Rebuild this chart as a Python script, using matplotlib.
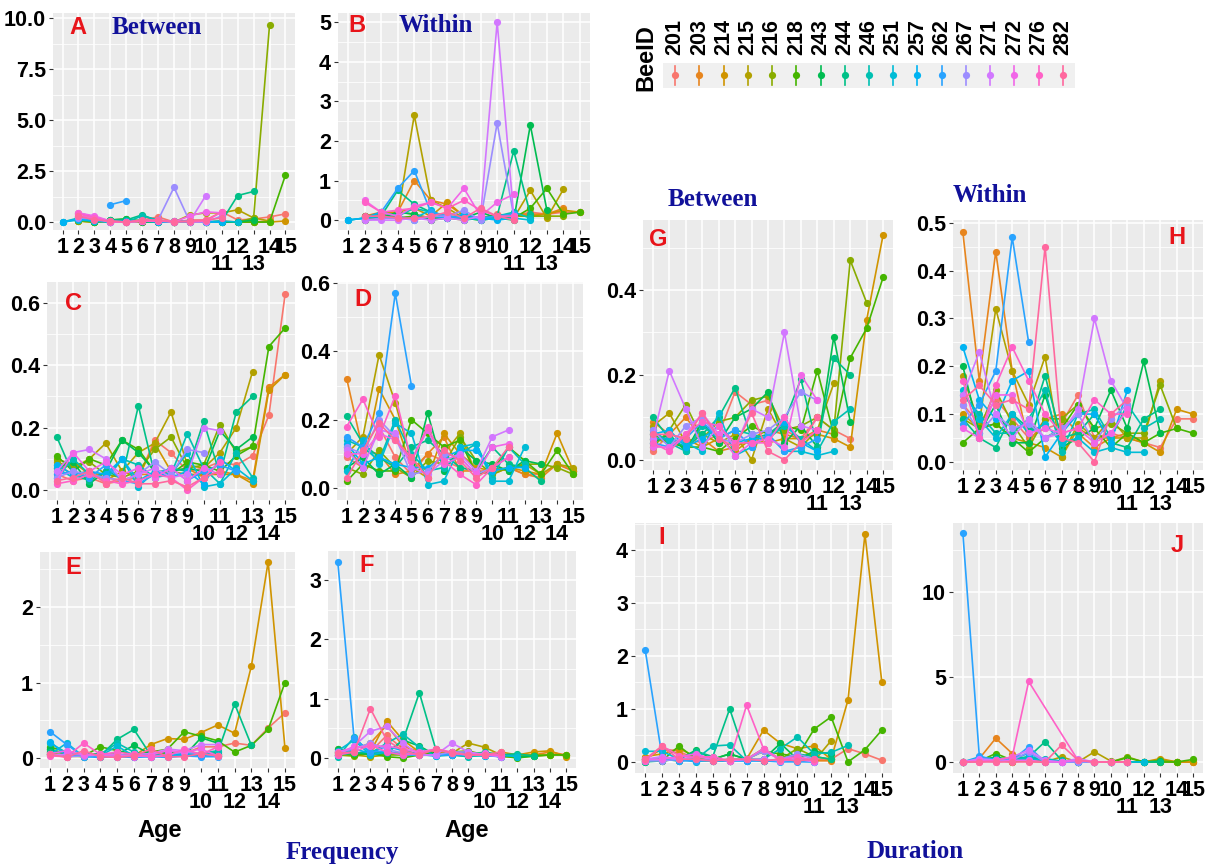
import numpy as np
import matplotlib
matplotlib.use("Agg")
import matplotlib.pyplot as plt
from matplotlib.ticker import FixedLocator

N = np.nan
ages = list(range(1, 16))
bee_ids = ["201", "203", "214", "215", "216", "218", "243", "244", "246",
           "251", "257", "262", "267", "271", "272", "276", "282"]

# ---------------- data (rows = bees in bee_ids order, cols = age 1..15) ----------------
A_vals = [
    [N,0.45,0.25,0.05,0.0,0.1,0.25,0.0,0.1,0.1,0.5,0.1,0.15,0.25,0.4],
    [N,0.1,0.05,0.0,0.05,0.0,0.05,0.0,0.05,0.0,0.05,0.0,0.0,0.05,N],
    [N,0.05,0.0,0.0,0.05,0.0,0.0,0.05,0.0,0.0,0.0,0.0,0.0,0.0,0.05],
    [N,0.05,0.0,0.05,0.0,0.05,0.0,0.0,0.35,0.45,0.45,0.6,0.2,0.05,N],
    [N,0.05,0.0,0.0,0.0,0.05,0.0,0.0,0.05,0.0,0.0,0.0,0.2,9.65,N],
    [N,0.1,0.0,0.1,0.15,0.05,0.0,0.0,0.0,0.0,0.0,0.0,0.0,0.0,2.3],
    [N,0.2,0.0,0.1,0.15,0.0,0.0,0.0,0.05,0.0,0.0,0.0,0.1,N,N],
    [N,0.25,0.05,0.1,0.1,0.35,0.05,0.0,0.0,0.0,0.05,1.3,1.5,N,N],
    [0.0,0.2,0.1,0.0,0.0,0.3,0.1,0.0,0.0,0.0,0.0,N,N,N,N],
    [0.0,0.1,0.05,0.0,0.0,0.1,0.0,0.05,0.0,0.0,0.05,0.0,N,N,N],
    [0.0,0.15,0.05,0.0,0.05,0.05,0.0,0.0,0.05,0.0,0.0,N,N,N,N],
    [N,N,N,0.85,1.05,N,N,N,N,N,N,N,N,N,N],
    [N,0.2,0.15,0.0,0.0,0.05,0.1,1.7,0.0,0.0,0.3,N,N,N,N],
    [N,0.3,0.2,0.0,0.0,0.05,0.1,0.0,0.05,1.3,N,N,N,N,N],
    [N,0.45,0.3,0.05,0.0,0.05,0.05,0.0,0.3,0.5,0.45,N,N,N,N],
    [N,0.4,0.2,0.0,0.0,0.05,0.05,0.05,0.0,0.05,0.5,N,N,N,N],
    [N,0.3,0.1,0.05,0.0,0.1,0.1,0.0,0.05,0.1,0.2,N,N,N,N],
]
B_vals = [
    [N,0.1,0.15,0.05,0.1,0.05,0.1,0.1,0.05,0.15,0.1,0.2,0.15,0.2,0.2],
    [N,0.1,0.2,0.2,1.0,0.5,0.4,0.1,0.05,0.1,0.15,0.15,0.15,0.3,N],
    [N,0.1,0.15,0.2,0.3,0.1,0.45,0.1,0.05,0.1,0.1,0.1,0.15,0.25,0.2],
    [N,0.0,0.1,0.1,2.65,0.5,0.3,0.05,0.05,0.1,0.05,0.75,0.05,0.78,N],
    [N,0.0,0.05,0.2,0.15,0.05,0.05,0.0,0.1,0.05,0.1,0.1,0.1,0.1,N],
    [N,0.0,0.05,0.05,0.1,0.0,0.05,0.05,0.0,0.05,0.05,0.3,0.8,0.15,0.2],
    [N,0.1,0.05,0.2,0.15,0.0,0.1,0.05,0.2,0.05,0.0,2.4,0.25,N,N],
    [N,0.05,0.1,0.75,0.4,0.2,0.05,0.05,0.0,0.1,1.75,0.15,N,N,N],
    [0.0,0.05,0.2,0.1,0.3,0.2,0.1,0.0,0.05,0.1,0.2,0.05,N,N,N],
    [0.0,0.05,0.1,0.05,0.05,0.25,0.05,0.1,0.0,0.05,0.05,0.0,N,N,N],
    [0.0,0.05,0.2,0.1,0.0,0.1,0.05,0.15,0.05,0.0,0.05,N,N,N,N],
    [N,N,0.2,0.8,1.25,0.2,0.1,0.05,0.05,0.1,0.15,N,N,N,N],
    [N,0.0,0.05,0.05,0.0,0.1,0.1,0.25,0.0,2.45,0.1,N,N,N,N],
    [N,0.0,0.0,0.0,0.05,0.0,0.05,0.0,0.1,5.0,0.1,N,N,N,N],
    [N,0.5,0.2,0.1,0.35,0.45,0.3,0.8,0.1,0.45,0.65,N,N,N,N],
    [N,0.45,0.2,0.25,0.3,0.45,0.3,0.5,0.25,0.1,0.1,N,N,N,N],
    [N,0.1,0.1,0.05,0.05,0.1,0.2,0.05,0.3,0.1,0.0,N,N,N,N],
]
C_vals = [
    [0.05,0.03,0.04,0.02,0.03,0.04,0.16,0.12,0.06,0.07,0.09,0.08,0.11,0.24,0.63],
    [0.08,0.05,0.06,0.04,0.03,0.05,0.05,0.06,0.07,0.04,0.06,0.05,0.03,0.33,0.37],
    [0.06,0.09,0.05,0.03,0.06,0.04,0.15,0.06,0.05,0.05,0.05,0.05,0.02,0.32,0.37],
    [0.09,0.07,0.10,0.15,0.06,0.12,0.15,0.25,0.08,0.07,0.12,0.20,0.38,N,N],
    [0.10,0.08,0.09,0.05,0.04,0.06,0.13,0.17,0.07,0.08,0.21,0.12,0.14,N,N],
    [0.11,0.06,0.10,0.08,0.16,0.13,0.06,0.05,0.09,0.08,0.06,0.11,0.14,0.46,0.52],
    [0.07,0.09,0.02,0.06,0.16,0.12,0.06,0.06,0.07,0.06,0.19,0.13,0.17,N,N],
    [0.17,0.05,0.03,0.06,0.04,0.27,0.05,0.07,0.06,0.22,0.05,0.25,0.30,N,N],
    [0.04,0.10,0.05,0.04,0.10,0.08,0.04,0.05,0.18,0.07,0.02,0.12,0.04,N,N],
    [0.07,0.04,0.05,0.03,0.10,0.01,0.06,0.05,0.12,0.01,0.02,0.07,0.03,N,N],
    [0.08,0.05,0.06,0.05,0.10,0.03,0.06,0.04,0.06,0.02,0.10,0.06,N,N,N],
    [0.05,0.06,0.04,0.08,0.03,0.02,0.05,0.07,0.03,0.06,0.08,0.06,N,N,N],
    [0.04,0.06,0.05,0.04,0.03,0.05,0.09,0.05,0.13,0.12,N,N,N,N,N],
    [0.06,0.12,0.13,0.10,0.03,0.05,0.07,0.04,0.05,0.20,0.19,N,N,N,N],
    [0.03,0.12,0.06,0.09,0.05,0.07,0.04,0.07,0.03,0.07,0.05,N,N,N,N],
    [0.02,0.03,0.05,0.03,0.02,0.03,0.05,0.04,0.00,0.04,0.09,N,N,N,N],
    [0.03,0.04,0.06,0.02,0.04,0.02,0.02,0.03,0.01,0.04,0.06,N,N,N,N],
]
D_vals = [
    [0.09,0.06,0.18,0.09,0.04,0.10,0.08,0.06,0.05,0.05,0.06,0.04,0.04,0.07,0.05],
    [0.32,0.11,0.10,0.04,0.05,0.10,0.15,0.05,0.05,0.04,0.06,0.04,0.03,0.07,0.05],
    [0.12,0.06,0.29,0.20,0.06,0.03,0.16,0.10,0.06,0.05,0.06,0.05,0.04,0.16,0.05],
    [0.10,0.15,0.39,0.25,0.08,0.05,0.10,0.16,0.04,0.06,0.05,0.07,0.04,0.07,0.06],
    [0.06,0.04,0.11,0.06,0.03,0.08,0.07,0.15,0.08,0.04,0.06,0.07,0.07,0.06,0.04],
    [0.02,0.07,0.05,0.05,0.20,0.16,0.12,0.14,0.04,0.05,0.12,0.08,0.04,0.11,0.04],
    [0.06,0.09,0.04,0.07,0.03,0.22,0.05,0.12,0.08,0.07,0.05,0.08,0.07,N,N],
    [0.21,0.13,0.09,0.06,0.12,0.14,0.10,0.06,0.05,0.12,0.07,0.06,0.02,N,N],
    [0.14,0.12,0.08,0.20,0.10,0.05,0.06,0.10,0.13,0.03,0.12,0.07,N,N,N],
    [0.05,0.14,0.07,0.19,0.16,0.01,0.02,0.12,0.13,0.02,0.02,0.12,N,N,N],
    [0.13,0.07,0.09,0.07,0.06,0.06,0.09,0.11,0.11,0.05,0.06,0.06,N,N,N],
    [0.15,0.12,0.22,0.57,0.30,N,N,N,N,N,N,N,N,N,N],
    [0.12,0.10,0.20,0.15,0.04,0.05,0.10,0.09,0.04,0.06,0.09,N,N,N,N],
    [0.11,0.06,0.17,0.16,0.06,0.04,0.08,0.10,0.05,0.15,0.17,N,N,N,N],
    [0.10,0.10,0.16,0.14,0.08,0.17,0.07,0.09,0.04,0.12,0.13,N,N,N,N],
    [0.18,0.26,0.15,0.27,0.08,0.18,0.08,0.04,0.01,0.06,0.09,N,N,N,N],
    [0.03,0.11,0.19,0.14,0.09,0.03,0.11,0.08,0.03,0.06,0.12,N,N,N,N],
]
E_vals = [
    [0.10,0.05,0.05,0.03,0.05,0.03,0.10,0.08,0.06,0.15,0.15,0.20,0.17,0.40,0.60],
    [0.05,0.03,0.05,0.02,0.03,0.02,0.05,0.05,0.03,0.05,0.05,N,N,N,N],
    [0.08,0.02,0.03,0.05,0.04,0.03,0.18,0.26,0.25,0.34,0.44,0.33,1.22,2.60,0.14],
    [0.12,0.05,0.04,0.03,0.02,0.04,0.05,0.06,0.10,0.05,0.05,N,N,N,N],
    [0.05,0.03,0.02,0.05,0.03,0.05,0.06,0.07,0.05,0.04,0.03,N,N,N,N],
    [0.15,0.08,0.03,0.15,0.10,0.05,0.08,0.12,0.35,0.29,0.23,0.08,0.17,0.38,1.00],
    [0.12,0.05,0.05,0.06,0.05,0.17,0.05,0.08,0.03,0.27,0.20,N,N,N,N],
    [0.08,0.07,0.04,0.03,0.25,0.38,0.04,0.04,0.05,0.04,0.08,0.72,0.17,N,N],
    [0.20,0.07,0.05,0.05,0.20,0.08,0.03,0.05,0.06,0.06,0.10,N,N,N,N],
    [0.05,0.20,0.02,0.03,0.16,0.03,0.02,0.04,0.04,0.06,0.04,N,N,N,N],
    [0.22,0.03,0.05,0.02,0.03,0.02,0.03,0.03,0.05,0.04,0.03,N,N,N,N],
    [0.35,0.18,0.02,0.01,0.02,0.01,0.02,0.01,0.03,0.02,0.02,N,N,N,N],
    [0.05,0.02,0.03,0.04,0.05,0.03,0.02,0.05,0.08,0.06,0.03,N,N,N,N],
    [0.04,0.05,0.06,0.03,0.02,0.05,0.06,0.12,0.10,0.18,0.18,N,N,N,N],
    [0.06,0.10,0.04,0.05,0.04,0.02,0.04,0.10,0.08,0.12,0.03,N,N,N,N],
    [0.03,0.02,0.20,0.05,0.08,0.05,0.02,0.03,0.12,0.05,0.15,N,N,N,N],
    [0.05,0.01,0.10,0.02,0.01,0.03,0.12,0.02,0.02,0.06,0.03,N,N,N,N],
]
F_vals = [
    [0.05,0.08,0.10,0.38,0.15,0.05,0.12,0.08,0.05,0.05,0.05,N,N,N,N],
    [0.10,0.15,0.25,0.55,0.20,0.10,0.08,0.10,0.05,0.05,0.02,0.02,0.05,0.10,0.05],
    [0.15,0.05,0.10,0.62,0.30,0.10,0.06,0.10,0.05,0.05,0.10,0.05,0.10,0.12,0.02],
    [0.10,0.05,0.02,0.05,0.10,0.05,0.05,0.08,0.25,0.18,0.05,0.02,0.03,0.05,0.05],
    [0.05,0.03,0.08,0.05,0.05,0.08,0.05,0.10,0.12,0.05,0.05,0.05,0.05,0.05,N],
    [0.08,0.05,0.08,0.02,0.00,0.05,0.08,0.05,0.03,0.05,0.03,0.00,0.03,0.05,0.05],
    [0.15,0.10,0.05,0.08,0.30,0.20,0.05,0.05,0.10,0.05,0.05,0.02,0.03,N,N],
    [0.05,0.08,0.10,0.08,0.30,1.10,0.15,0.08,0.05,0.10,0.05,0.07,0.03,N,N],
    [0.02,0.35,0.08,0.25,0.40,0.18,0.03,0.05,0.02,0.05,0.03,0.05,N,N,N],
    [0.12,0.30,0.05,0.10,0.05,0.05,0.05,0.05,0.05,0.03,0.05,0.02,N,N,N],
    [0.05,0.15,0.08,0.20,0.12,0.06,0.03,0.08,0.05,0.04,0.02,N,N,N,N],
    [3.30,0.33,0.10,0.12,0.05,0.05,0.05,0.05,0.05,0.05,0.02,N,N,N,N],
    [0.10,0.15,0.25,0.15,0.08,0.05,0.05,0.10,0.10,0.05,0.05,N,N,N,N],
    [0.05,0.20,0.45,0.53,0.25,0.05,0.05,0.25,0.10,0.05,0.02,N,N,N,N],
    [0.10,0.18,0.20,0.20,0.15,0.10,0.15,0.08,0.05,0.08,0.05,N,N,N,N],
    [0.05,0.10,0.22,0.10,0.05,0.08,0.15,0.10,0.05,0.05,0.05,N,N,N,N],
    [0.08,0.10,0.83,0.30,0.12,0.05,0.15,0.08,0.05,0.05,0.10,N,N,N,N],
]
G_vals = [
    [0.02,0.06,0.05,0.04,0.06,0.16,0.13,0.14,0.07,0.05,0.10,0.07,0.05,N,N],
    [0.09,0.06,0.10,0.05,0.02,0.03,0.05,0.07,0.06,0.05,0.07,0.06,N,N,N],
    [0.05,0.04,0.05,0.03,0.05,0.02,0.05,0.04,0.05,0.05,0.06,0.05,0.03,0.33,0.53],
    [0.08,0.11,0.04,0.06,0.04,0.06,0.00,0.12,0.05,0.03,0.07,0.18,N,N,N],
    [0.03,0.07,0.13,0.05,0.09,0.10,0.14,0.15,0.07,0.08,0.10,0.07,0.47,0.37,N],
    [0.06,0.04,0.03,0.03,0.02,0.05,0.08,0.06,0.08,0.07,0.21,0.06,0.24,0.31,0.43],
    [0.04,0.06,0.02,0.09,0.04,0.10,0.12,0.16,0.04,0.08,0.03,0.29,0.09,N,N],
    [0.10,0.05,0.03,0.06,0.10,0.17,0.05,0.06,0.09,0.19,0.03,0.24,0.20,N,N],
    [0.07,0.04,0.02,0.08,0.05,0.07,0.06,0.05,0.08,0.05,0.02,0.09,0.12,N,N],
    [0.05,0.05,0.04,0.02,0.11,0.01,0.03,0.06,0.02,0.02,0.01,0.02,N,N,N],
    [0.06,0.07,0.03,0.05,0.08,0.04,0.05,0.05,0.09,0.04,0.02,N,N,N,N],
    [0.04,0.03,0.05,0.09,0.05,0.07,0.03,0.06,0.02,0.03,0.05,N,N,N,N],
    [0.07,0.03,0.08,0.10,0.05,0.04,0.06,0.07,0.10,0.16,0.14,N,N,N,N],
    [0.05,0.21,0.12,0.03,0.08,0.03,0.12,0.10,0.30,0.08,0.07,N,N,N,N],
    [0.03,0.03,0.06,0.11,0.06,0.01,0.04,0.05,0.03,0.20,0.14,N,N,N,N],
    [0.04,0.02,0.06,0.09,0.08,0.04,0.04,0.04,0.10,0.04,0.07,N,N,N,N],
    [0.06,0.06,0.05,0.11,0.05,0.03,0.11,0.02,0.00,0.04,0.10,N,N,N,N],
]
H_vals = [
    [0.12,0.08,0.13,0.09,0.05,0.07,0.08,0.14,0.05,0.06,0.05,0.04,0.03,0.09,0.09],
    [0.48,0.17,0.44,0.19,0.04,0.09,0.10,0.06,0.03,0.05,0.06,0.04,N,N,N],
    [0.10,0.07,0.08,0.05,0.04,0.03,0.01,0.07,0.05,0.05,0.05,0.04,0.02,0.11,0.10],
    [0.18,0.08,0.32,0.19,0.12,0.22,0.01,0.08,0.05,0.09,0.05,0.05,0.17,N,N],
    [0.09,0.07,0.15,0.08,0.03,0.09,0.09,0.12,0.07,0.08,0.06,0.06,0.16,0.07,N],
    [0.04,0.07,0.08,0.05,0.02,0.05,0.07,0.12,0.07,0.03,0.06,0.04,0.06,0.07,0.06],
    [0.20,0.06,0.12,0.04,0.04,0.14,0.03,0.05,0.07,0.15,0.07,0.21,0.06,N,N],
    [0.09,0.05,0.03,0.10,0.07,0.18,0.05,0.06,0.10,0.04,0.03,0.09,0.11,N,N],
    [0.14,0.10,0.06,0.06,0.09,0.15,0.02,0.10,0.11,0.05,0.12,0.07,0.09,N,N],
    [0.15,0.09,0.05,0.10,0.06,0.08,0.04,0.05,0.02,0.03,0.02,0.02,N,N,N],
    [0.24,0.13,0.09,0.17,0.19,0.01,0.06,0.10,0.10,0.04,0.15,N,N,N,N],
    [0.08,0.12,0.19,0.47,0.25,N,N,N,N,N,N,N,N,N,N],
    [0.12,0.06,0.10,0.07,0.08,0.05,0.07,0.10,0.04,0.09,0.12,N,N,N,N],
    [0.14,0.23,0.10,0.05,0.09,0.05,0.06,0.11,0.30,0.17,0.11,N,N,N,N],
    [0.07,0.05,0.14,0.14,0.06,0.07,0.06,0.07,0.04,0.06,0.11,N,N,N,N],
    [0.17,0.05,0.16,0.24,0.17,0.10,0.06,0.07,0.13,0.10,0.10,N,N,N,N],
    [0.13,0.16,0.12,0.13,0.11,0.45,0.05,0.04,0.00,0.10,0.13,N,N,N,N],
]
I_vals = [
    [0.05,0.25,0.20,0.05,0.05,0.02,0.05,0.02,0.02,0.05,0.05,0.05,0.25,0.15,0.03],
    [0.05,0.25,0.15,0.05,0.02,0.02,0.05,0.02,0.05,0.02,0.02,0.02,N,N,N],
    [0.10,0.15,0.25,0.10,0.05,0.02,0.05,0.60,0.35,0.25,0.30,0.05,1.17,4.30,1.50],
    [0.02,0.02,0.05,0.02,0.02,0.02,0.05,0.02,0.05,0.02,0.02,0.40,N,N,N],
    [0.02,0.05,0.02,0.05,0.02,0.05,0.05,0.25,0.05,0.25,0.10,0.05,N,N,N],
    [0.05,0.02,0.30,0.05,0.05,0.15,0.05,0.20,0.15,0.10,0.62,0.85,0.00,0.23,0.60],
    [0.00,0.05,0.05,0.22,0.05,0.15,0.05,0.05,0.35,0.05,0.20,0.15,N,N,N],
    [0.00,0.02,0.05,0.20,0.10,1.00,0.05,0.02,0.05,0.15,0.10,0.05,N,N,N],
    [0.05,0.05,0.05,0.05,0.30,0.32,0.02,0.05,0.25,0.47,0.15,0.18,0.31,N,N],
    [0.20,0.20,0.05,0.00,0.05,0.02,0.05,0.02,0.02,0.02,0.00,N,N,N,N],
    [0.02,0.05,0.02,0.05,0.02,0.02,0.02,0.02,0.02,0.05,0.02,N,N,N,N],
    [2.12,0.10,0.02,0.02,0.02,0.02,0.02,0.02,0.00,0.00,0.00,N,N,N,N],
    [0.02,0.02,0.05,0.05,0.02,0.05,0.05,0.20,0.05,0.15,0.05,N,N,N,N],
    [0.05,0.10,0.05,0.10,0.05,0.02,0.05,0.05,0.02,0.05,0.00,N,N,N,N],
    [0.05,0.05,0.10,0.15,0.05,0.02,0.05,0.25,0.05,0.10,0.02,N,N,N,N],
    [0.02,0.30,0.12,0.08,0.10,0.02,1.07,0.25,0.02,0.10,0.02,N,N,N,N],
    [0.05,0.30,0.05,0.05,0.02,0.05,0.05,0.02,0.05,0.02,0.05,N,N,N,N],
]
J_vals = [
    [0.0,0.1,0.1,0.1,0.05,0.0,0.0,0.05,0.0,0.0,0.0,0.0,0.0,0.0,0.0],
    [0.0,0.2,1.4,0.5,0.1,0.05,0.05,0.0,0.0,0.0,0.0,0.0,0.1,0.0,0.0],
    [0.0,0.1,0.2,0.1,0.05,0.0,0.05,0.0,0.0,0.0,0.0,0.0,0.2,0.0,0.0],
    [0.0,0.05,0.1,0.0,0.1,0.0,0.3,0.0,0.6,0.05,0.0,0.0,0.0,0.0,N],
    [0.0,0.1,0.2,0.0,0.2,0.05,0.05,0.0,0.0,0.0,0.3,0.0,0.1,0.0,N],
    [0.0,0.05,0.5,0.1,0.2,0.1,0.05,0.0,0.0,0.0,0.25,0.0,0.0,0.0,0.15],
    [0.0,0.1,0.3,0.1,0.3,0.1,0.05,0.0,0.0,0.0,0.0,0.0,0.05,N,N],
    [0.0,0.1,0.1,0.2,0.3,1.2,0.1,0.0,0.0,0.0,0.0,0.0,0.0,N,N],
    [0.0,0.1,0.1,0.1,0.3,0.2,0.05,0.0,0.0,0.0,0.0,0.0,N,N,N],
    [0.0,0.2,0.2,0.1,0.2,0.1,0.0,0.0,0.0,0.0,0.0,0.0,N,N,N],
    [0.0,0.3,0.1,0.2,0.5,0.1,0.0,0.0,0.0,0.0,0.0,N,N,N,N],
    [13.5,0.35,0.1,0.1,0.9,0.0,0.0,0.0,0.0,0.0,0.0,N,N,N,N],
    [0.0,0.1,0.1,0.1,0.6,0.0,0.0,0.0,0.0,0.0,0.0,N,N,N,N],
    [0.0,0.2,0.1,0.3,0.7,0.1,0.0,0.2,0.0,0.0,0.0,N,N,N,N],
    [0.0,0.1,0.0,0.1,0.1,0.0,0.0,0.1,0.0,0.0,0.0,N,N,N,N],
    [0.0,0.0,0.1,0.3,4.75,N,N,0.1,0.0,0.0,0.0,N,N,N,N],
    [0.0,0.0,0.0,0.0,0.0,0.0,1.0,0.1,0.0,0.0,0.0,N,N,N,N],
]

# y tick values / labels per panel
A_ticks = [0, 2.5, 5, 7.5, 10];   A_labels = ["0.0", "2.5", "5.0", "7.5", "10.0"]
B_ticks = [0, 1, 2, 3, 4, 5];     B_labels = ["0", "1", "2", "3", "4", "5"]
C_ticks = [0, 0.2, 0.4, 0.6];     C_labels = ["0.0", "0.2", "0.4", "0.6"]
D_ticks = [0, 0.2, 0.4, 0.6];     D_labels = ["0.0", "0.2", "0.4", "0.6"]
E_ticks = [0, 1, 2];              E_labels = ["0", "1", "2"]
F_ticks = [0, 1, 2, 3];           F_labels = ["0", "1", "2", "3"]
G_ticks = [0, 0.2, 0.4];          G_labels = ["0.0", "0.2", "0.4"]
H_ticks = [0, 0.1, 0.2, 0.3, 0.4, 0.5]; H_labels = ["0.0", "0.1", "0.2", "0.3", "0.4", "0.5"]
I_ticks = [0, 1, 2, 3, 4];        I_labels = ["0", "1", "2", "3", "4"]
J_ticks = [0, 5, 10];             J_labels = ["0", "5", "10"]

# ---------------- styling ----------------
W, H = 1229, 865
plt.rcParams["font.family"] = ["Liberation Sans", "DejaVu Sans"]
plt.rcParams["font.weight"] = "bold"

def hcl(h, c=100.0, l=65.0):
    hr = np.deg2rad(h)
    u, v = c * np.cos(hr), c * np.sin(hr)
    Xn, Yn, Zn = 0.95047, 1.0, 1.08883
    un = 4 * Xn / (Xn + 15 * Yn + 3 * Zn)
    vn = 9 * Yn / (Xn + 15 * Yn + 3 * Zn)
    Y = ((l + 16) / 116) ** 3
    up = u / (13 * l) + un
    vp = v / (13 * l) + vn
    X = Y * 9 * up / (4 * vp)
    Z = Y * (12 - 3 * up - 20 * vp) / (4 * vp)
    rgb = np.array([3.2404542 * X - 1.5371385 * Y - 0.4985314 * Z,
                    -0.9692660 * X + 1.8760108 * Y + 0.0415560 * Z,
                    0.0556434 * X - 0.2040259 * Y + 1.0572252 * Z])
    rgb = np.where(rgb <= 0.0031308, 12.92 * rgb, 1.055 * np.clip(rgb, 0, None) ** (1 / 2.4) - 0.055)
    return tuple(np.clip(rgb, 0, 1))

hues = np.linspace(15, 375, len(bee_ids) + 1)[:-1]
colors = [hcl(h) for h in hues]

fig = plt.figure(figsize=(W / 100, H / 100), dpi=100)
fig.patch.set_facecolor("white")

def rect(x0, y0, x1, y1):
    return [x0 / W, 1 - y1 / H, (x1 - x0) / W, (y1 - y0) / H]

def fpos(x, y):
    return x / W, 1 - y / H

TICK_FS = 15.5
NAVY = "#11119a"
RED = "#e8141a"

def panel(box, vals, ylim, yt, ylab, dodge_low, letter, letter_xy):
    ax = fig.add_axes(rect(*box))
    ax.set_facecolor("#ebebeb")
    for s in ax.spines.values():
        s.set_visible(False)
    ax.set_xlim(0.4, 15.6)
    ax.set_ylim(*ylim)
    ax.set_xticks(ages)
    ax.set_xticklabels([("\n" + str(a)) if a in dodge_low else str(a) for a in ages])
    for t in ax.get_xticklabels():
        t.set_linespacing(0.78)
    ax.set_yticks(yt)
    ax.set_yticklabels(ylab)
    step = yt[1] - yt[0]
    minors = [v + step / 2 for v in [yt[0] - step] + list(yt)]
    ax.yaxis.set_minor_locator(FixedLocator(minors))
    ax.grid(True, which="major", color="white", lw=1.1)
    ax.grid(True, which="minor", axis="y", color="white", lw=0.55)
    ax.set_axisbelow(True)
    ax.tick_params(axis="both", which="major", length=3, width=0.8, color="#333333",
                   labelsize=TICK_FS, pad=2, labelcolor="black")
    ax.tick_params(axis="y", which="minor", length=0)
    for i, row in enumerate(vals):
        y = np.array(row, dtype=float)
        m = ~np.isnan(y)
        x = np.array(ages)[m]
        ax.plot(x, y[m], color=colors[i], lw=1.2, marker="o", ms=5.2,
                markeredgewidth=0, solid_joinstyle="round")
    fig.text(*fpos(*letter_xy), letter, color=RED, fontsize=17, fontweight="bold",
             ha="center", va="center")
    return ax

low1 = [11, 13]
low2 = [10, 12, 14]

panel((53, 13, 295, 230), A_vals, (-0.39, 10.25), A_ticks, A_labels, low1, "A", (78, 28))
panel((338, 13, 590, 230), B_vals, (-0.25, 5.23), B_ticks, B_labels, low1, "B", (357, 25))
panel((47, 282, 295, 500), C_vals, (-0.032, 0.667), C_ticks, C_labels, low2, "C", (73, 303))
panel((337, 282, 583, 500), D_vals, (-0.035, 0.603), D_ticks, D_labels, low2, "D", (363, 300))
panel((40, 552, 295, 768), E_vals, (-0.13, 2.73), E_ticks, E_labels, low2, "E", (73, 567))
panel((328, 551, 576, 768), F_vals, (-0.17, 3.49), F_ticks, F_labels, low2, "F", (367, 565))
panel((643, 220, 893, 470), G_vals, (-0.024, 0.565), G_ticks, G_labels, low1, "G", (658, 240))
panel((953, 220, 1203, 470), H_vals, (-0.017, 0.506), H_ticks, H_labels, low1, "H", (1177, 238))
panel((635, 523, 892, 773), I_vals, (-0.21, 4.51), I_ticks, I_labels, low1, "I", (662, 538))
panel((953, 523, 1203, 773), J_vals, (-0.65, 14.1), J_ticks, J_labels, low1, "J", (1177, 545))

# serif blue captions
serif = ["Liberation Serif", "DejaVu Serif"]
for txt, xy in [("Between", (157, 27)), ("Within", (436, 25)),
                ("Between", (713, 199)), ("Within", (990, 195)),
                ("Frequency", (342, 852)), ("Duration", (915, 852))]:
    fig.text(*fpos(*xy), txt, color=NAVY, fontsize=18, fontweight="bold",
             family=serif, ha="center", va="center")

# Age labels
for xy in [(160, 830), (467, 830)]:
    fig.text(*fpos(*xy), "Age", fontsize=17, fontweight="bold", ha="center", va="center")

# legend
axL = fig.add_axes(rect(663, 63, 1075, 88))
axL.set_facecolor("#f0f0f0")
for s in axL.spines.values():
    s.set_visible(False)
axL.set_xticks([]); axL.set_yticks([])
axL.set_xlim(0.5, len(bee_ids) + 0.5)
axL.set_ylim(0, 1)
for i, b in enumerate(bee_ids):
    xk = i + 1
    axL.plot([xk, xk], [0.12, 0.88], color=colors[i], lw=1.2)
    axL.plot([xk], [0.5], marker="o", ms=5.2, color=colors[i], markeredgewidth=0)
    xf = 663 + (xk - 0.5) / len(bee_ids) * (1075 - 663)
    fig.text(*fpos(xf, 55), b, rotation=90, fontsize=15.5, fontweight="bold",
             ha="center", va="bottom")
fig.text(*fpos(646, 58), "BeeID", rotation=90, fontsize=17, fontweight="bold",
         ha="center", va="center")

fig.savefig("out.png", dpi=100)
